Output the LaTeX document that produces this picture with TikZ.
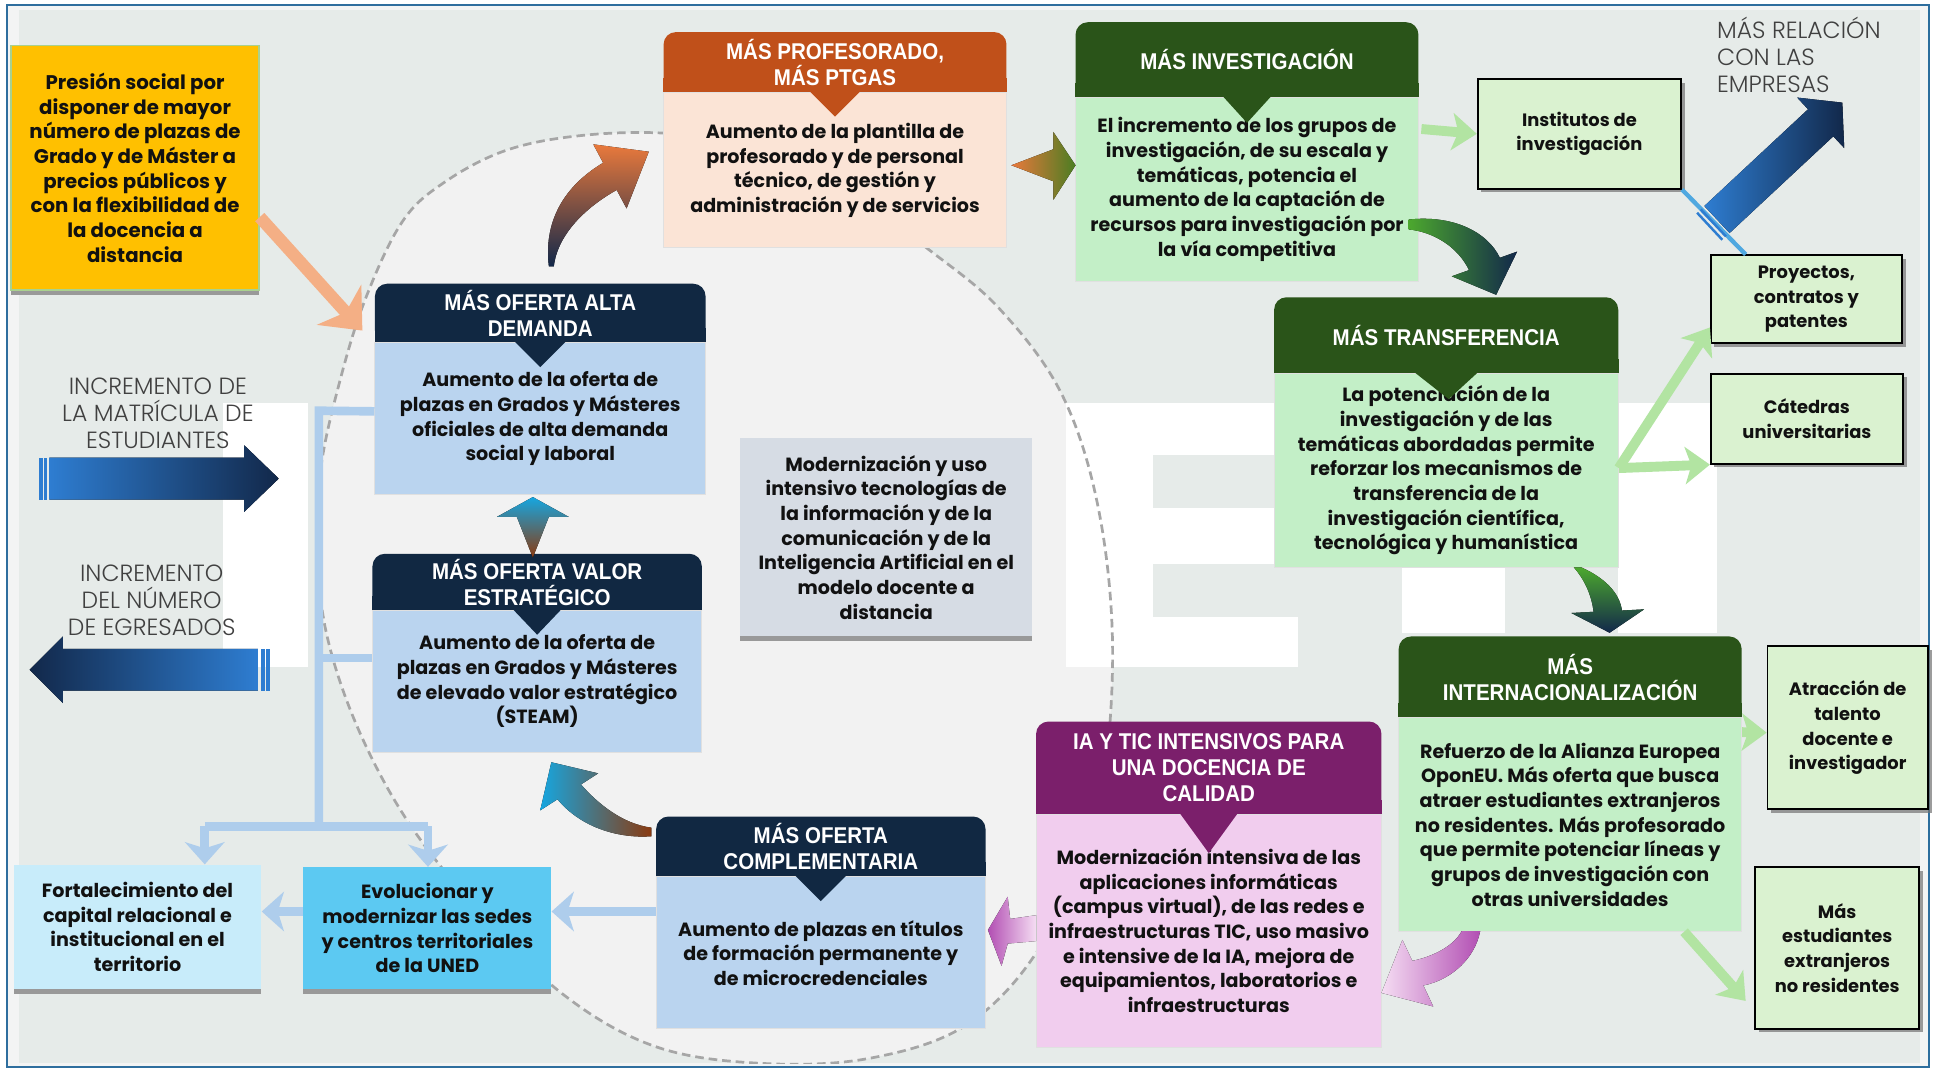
\documentclass[tikz,border=0pt]{standalone}
\usepackage{fontspec}
\setmainfont{Poppins}
\newfontfamily\headfont[FakeStretch=0.9]{Liberation Sans}
\newfontfamily\lightfont{Poppins Light}
\usetikzlibrary{calc, arrows.meta, shadows}

\definecolor{framebd}{HTML}{2E6E9E}
\definecolor{rimbg}{HTML}{F3F4F4}
\definecolor{panelbg}{HTML}{E6EBE9}
\definecolor{ovalbg}{HTML}{F2F2F2}
\definecolor{ovalline}{HTML}{A6A6A6}
\definecolor{navyhead}{HTML}{112842}
\definecolor{bluebody}{HTML}{BAD4EF}
\definecolor{orangehead}{HTML}{C0501A}
\definecolor{peachbody}{HTML}{FBE4D6}
\definecolor{greenhead}{HTML}{2A5419}
\definecolor{greenbody}{HTML}{C3EFC7}
\definecolor{purplehead}{HTML}{7B1F6B}
\definecolor{pinkbody}{HTML}{F1CDEE}
\definecolor{leafgreen}{HTML}{DAF2D0}
\definecolor{yellowbox}{HTML}{FFC000}
\definecolor{graybox}{HTML}{D6DCE4}
\definecolor{paleblue}{HTML}{C8ECFA}
\definecolor{skyblue}{HTML}{5CC9F2}
\definecolor{arrowgreen}{HTML}{B2E4A2}
\definecolor{arrowblue}{HTML}{AECDEC}
\definecolor{salmon}{HTML}{F4AF85}
\definecolor{navyarrow}{HTML}{12284A}
\definecolor{brightblue}{HTML}{2E7DD1}
\definecolor{emerald}{HTML}{4CA82E}
\definecolor{rust}{HTML}{E9793C}
\definecolor{olive}{HTML}{4B7D22}
\definecolor{cyanarrow}{HTML}{16A6E0}
\definecolor{brownarrow}{HTML}{8A3A10}
\definecolor{magentaarrow}{HTML}{B24FB3}
\definecolor{pinkpale}{HTML}{F5DDF3}
\definecolor{thintext}{HTML}{404040}
\definecolor{textblack}{HTML}{111111}
\definecolor{linkblue}{HTML}{4FA8E0}
\definecolor{limeedge}{HTML}{A9D18E}

\begin{document}
\begin{tikzpicture}[x=1pt, y=-1pt,
    cardhead/.style={fill=#1, text=white, font=\headfont\bfseries\fontsize{18.5}{21}\selectfont, align=center, inner sep=0pt, rounded corners=10pt},
    cardbody/.style={fill=#1, draw=black!12, line width=0.8pt, text=textblack, font=\bfseries\fontsize{15.5}{20}\selectfont, align=center, inner sep=0pt},
    leafbox/.style={fill=leafgreen, draw=black, line width=1.4pt, text=textblack, font=\bfseries\fontsize{14.5}{20}\selectfont, align=center, inner sep=0pt, drop shadow={shadow xshift=3pt, shadow yshift=-3pt, fill=black!55, opacity=.7}},
    notebox/.style={fill=#1, text=textblack, font=\bfseries\fontsize{15.5}{20}\selectfont, align=center, inner sep=0pt, drop shadow={shadow xshift=0pt, shadow yshift=-4pt, fill=black!40, opacity=1}},
    thinlabel/.style={text=thintext, font=\lightfont\fontsize{19}{22}\selectfont, align=center, inner sep=0pt},
    greenarrow/.style={draw=arrowgreen, line width=8pt, -{Stealth[length=20pt, width=30pt, inset=5pt]}},
    bluearrow/.style={draw=arrowblue, line width=7pt, -{Stealth[length=18pt, width=32pt, inset=5pt]}},
    bluelink/.style={draw=arrowblue, line width=7pt},
    salmonarrow/.style={draw=salmon, line width=10pt, -{Stealth[length=28pt, width=48pt, inset=8pt]}}]
\useasboundingbox (0,0) rectangle (1568,867);

% background and frame
\fill[white] (0,0) rectangle (1568,867);
\fill[rimbg] (6,4) rectangle (1564,865);
\fill[panelbg] (15,8) rectangle (1557,862);
\draw[framebd, line width=1.5pt] (6,4) rectangle (1564,865);

\begin{scope}
  \clip (15,8) rectangle (1557,862);
  \path[save path=\ovalp] plot[smooth cycle, tension=0.6] coordinates {(257,445) (260,380) (275,311) (296,243) (326,180) (360,148) (410,122) (470,110) (540,108) (615,118) (690,155) (750,200) (810,250) (862,322) (892,420) (902,540) (888,665) (845,765) (785,830) (705,858) (615,862) (530,848) (455,805) (385,735) (330,665) (290,590) (265,515)};
  \fill[ovalbg, use path=\ovalp];
  % faded letters behind
  \fill[white] (181,327) rectangle (250,541);
  \fill[white] (864,327) rectangle (935,541);
  \fill[white] (864,327) rectangle (1033,369);
  \fill[white] (935,412) rectangle (1033,457);
  \fill[white] (864,500) rectangle (1052,541);
  \fill[white] (1137,460) rectangle (1220,513);
  \fill[white] (1312,327) rectangle (1392,513);
  \draw[ovalline, line width=2.2pt, dash pattern=on 7pt off 4pt, use path=\ovalp];
\end{scope}

% left side
\node[thinlabel] (matT) at (128,335) {INCREMENTO DE\\LA MATRÍCULA DE\\ESTUDIANTES};
\node[thinlabel] (egrT) at (123,486.5) {INCREMENTO\\DEL NÚMERO\\DE EGRESADOS};
\fill[left color=brightblue, right color=navyarrow] (40,371) -- (198,371) -- (198,361) -- (226,388) -- (198,415) -- (198,405) -- (40,405) -- cycle;
\fill[brightblue] (32,371) rectangle (34.5,405);
\fill[brightblue] (36,371) rectangle (38.5,405);
\fill[left color=navyarrow, right color=brightblue] (24,543) -- (51,516) -- (51,526) -- (209,526) -- (209,560) -- (51,560) -- (51,570) -- cycle;
\fill[brightblue] (212,526) rectangle (214.5,560);
\fill[brightblue] (216,526) rectangle (218.5,560);

\node[notebox=yellowbox, draw=limeedge, line width=1.2pt, font=\bfseries\fontsize{16}{20}\selectfont, minimum width=201, minimum height=198] (pres) at (109.5,136) {Presión social por\\disponer de mayor\\número de plazas de\\Grado y de Máster a\\precios públicos y\\con la flexibilidad de\\la docencia a\\distancia};

% cards
\node[cardhead=navyhead, minimum width=268, minimum height=48] (altaH) at (438,254) {MÁS OFERTA ALTA\\DEMANDA};
\fill[navyhead] ($(altaH.south west)+(0,-12)$) rectangle ++(12,12);
\fill[navyhead] ($(altaH.south east)+(-12,-12)$) rectangle ++(12,12);
\node[cardbody=bluebody, minimum width=268, minimum height=123] (altaB) at (438,339.5) {Aumento de la oferta de\\plazas en Grados y Másteres\\oficiales de alta demanda\\social y laboral};
\fill[navyhead] ($(altaB.north)+(-21,-1)$) -- ($(altaB.north)+(21,-1)$) -- ($(altaB.north)+(0,20)$) -- cycle;

\node[cardhead=navyhead, minimum width=267, minimum height=46] (valorH) at (435.5,472) {MÁS OFERTA VALOR\\ESTRATÉGICO};
\fill[navyhead] ($(valorH.south west)+(0,-12)$) rectangle ++(12,12);
\fill[navyhead] ($(valorH.south east)+(-12,-12)$) rectangle ++(12,12);
\node[cardbody=bluebody, minimum width=267, minimum height=115] (valorB) at (435.5,552.5) {Aumento de la oferta de\\plazas en Grados y Másteres\\de elevado valor estratégico\\(STEAM)};
\fill[navyhead] ($(valorB.north)+(-20,-1)$) -- ($(valorB.north)+(20,-1)$) -- ($(valorB.north)+(0,20)$) -- cycle;

\node[cardhead=orangehead, minimum width=278, minimum height=49] (profH) at (677,50.5) {MÁS PROFESORADO,\\MÁS PTGAS};
\fill[orangehead] ($(profH.south west)+(0,-12)$) rectangle ++(12,12);
\fill[orangehead] ($(profH.south east)+(-12,-12)$) rectangle ++(12,12);
\node[cardbody=peachbody, minimum width=278, minimum height=126] (profB) at (677,138) {Aumento de la plantilla de\\profesorado y de personal\\técnico, de gestión y\\administración y de servicios};
\fill[orangehead] ($(profB.north)+(-21,-1)$) -- ($(profB.north)+(21,-1)$) -- ($(profB.north)+(0,20)$) -- cycle;

\node[cardhead=greenhead, minimum width=278, minimum height=61] (invH) at (1011,48.5) {MÁS INVESTIGACIÓN};
\fill[greenhead] ($(invH.south west)+(0,-12)$) rectangle ++(12,12);
\fill[greenhead] ($(invH.south east)+(-12,-12)$) rectangle ++(12,12);
\node[cardbody=greenbody, minimum width=278, minimum height=149] (invB) at (1011,153.5) {El incremento de los grupos de\\investigación, de su escala y\\temáticas, potencia el\\aumento de la captación de\\recursos para investigación por\\la vía competitiva};
\fill[greenhead] ($(invB.north)+(-20,-1)$) -- ($(invB.north)+(20,-1)$) -- ($(invB.north)+(0,21)$) -- cycle;

\node[cardhead=greenhead, minimum width=279, minimum height=62] (transH) at (1172.5,272) {MÁS TRANSFERENCIA};
\fill[greenhead] ($(transH.south west)+(0,-12)$) rectangle ++(12,12);
\fill[greenhead] ($(transH.south east)+(-12,-12)$) rectangle ++(12,12);
\node[cardbody=greenbody, minimum width=279, minimum height=157] (transB) at (1172.5,381.5) {La potenciación de la\\investigación y de las\\temáticas abordadas permite\\reforzar los mecanismos de\\transferencia de la\\investigación científica,\\tecnológica y humanística};
\fill[greenhead] ($(transB.north)+(-26,-1)$) -- ($(transB.north)+(26,-1)$) -- ($(transB.north)+(2,21)$) -- cycle;

\node[cardhead=greenhead, minimum width=278, minimum height=66] (intlH) at (1273,549) {MÁS\\INTERNACIONALIZACIÓN};
\fill[greenhead] ($(intlH.south west)+(0,-12)$) rectangle ++(12,12);
\fill[greenhead] ($(intlH.south east)+(-12,-12)$) rectangle ++(12,12);
\node[cardbody=greenbody, minimum width=278, minimum height=173] (intlB) at (1273,668.5) {Refuerzo de la Alianza Europea\\OponEU. Más oferta que busca\\atraer estudiantes extranjeros\\no residentes. Más profesorado\\que permite potenciar líneas y\\grupos de investigación con\\otras universidades};

\node[cardhead=purplehead, minimum width=280, minimum height=75] (iaH) at (980,622.5) {IA Y TIC INTENSIVOS PARA\\UNA DOCENCIA DE\\CALIDAD};
\fill[purplehead] ($(iaH.south west)+(0,-12)$) rectangle ++(12,12);
\fill[purplehead] ($(iaH.south east)+(-12,-12)$) rectangle ++(12,12);
\node[cardbody=pinkbody, minimum width=280, minimum height=189] (iaB) at (980,754.5) {Modernización intensiva de las\\aplicaciones informáticas\\(campus virtual), de las redes e\\infraestructuras TIC, uso masivo\\e intensive de la IA, mejora de\\equipamientos, laboratorios e\\infraestructuras};
\fill[purplehead] ($(iaB.north)+(-24,-1)$) -- ($(iaB.north)+(24,-1)$) -- ($(iaB.north)+(0,32)$) -- cycle;

\node[cardhead=navyhead, minimum width=267, minimum height=49] (compH) at (665.5,686.5) {MÁS OFERTA\\COMPLEMENTARIA};
\fill[navyhead] ($(compH.south west)+(0,-12)$) rectangle ++(12,12);
\fill[navyhead] ($(compH.south east)+(-12,-12)$) rectangle ++(12,12);
\node[cardbody=bluebody, minimum width=267, minimum height=123] (compB) at (665.5,772.5) {Aumento de plazas en títulos\\de formación permanente y\\de microcredenciales};
\fill[navyhead] ($(compB.north)+(-21,-1)$) -- ($(compB.north)+(21,-1)$) -- ($(compB.north)+(0,20)$) -- cycle;

\node[notebox=graybox, minimum width=237, minimum height=161] (moder) at (718.5,435.5) {Modernización y uso\\intensivo tecnologías de\\la información y de la\\comunicación y de la\\Inteligencia Artificial en el\\modelo docente a\\distancia};

\node[notebox=paleblue, minimum width=201, minimum height=101] (fort) at (111.5,751.5) {Fortalecimiento del\\capital relacional e\\institucional en el\\territorio};
\node[notebox=skyblue, minimum width=201, minimum height=99] (evol) at (346.5,752.5) {Evolucionar y\\modernizar las sedes\\y centros territoriales\\de la UNED};

% small boxes on the right
\node[leafbox, minimum width=165, minimum height=89] (inst) at (1280.5,108.5) {Institutos de\\investigación};
\node[leafbox, minimum width=155, minimum height=71] (proy) at (1464.5,242.5) {Proyectos,\\contratos y\\patentes};
\node[leafbox, minimum width=156, minimum height=73] (cat) at (1465,339.5) {Cátedras\\universitarias};
\node[leafbox, minimum width=130, minimum height=132] (atr) at (1498,590) {Atracción de\\talento\\docente e\\investigador};
\node[leafbox, minimum width=133, minimum height=131] (est) at (1489.5,768.5) {Más\\estudiantes\\extranjeros\\no residentes};

\node[thinlabel, align=left, anchor=west] (relT) at (1392,44.5) {MÁS RELACIÓN\\CON LAS\\EMPRESAS};

% connectors
\draw[salmonarrow] ($(pres.east)+(0,40)$) -- ($(altaH.west)+(-10,14)$);

\coordinate (spineT) at (258.5,333);
\coordinate (spineB) at (258.5,670);
\coordinate (forkL) at (166,670);
\coordinate (forkR) at (347,670);
\draw[bluelink] ($(altaB.west)+(0,-6)$) -- (spineT) -- (spineB);
\draw[bluelink] ($(valorB.west)+(0,-19)$) -- ++(-43.5,0);
\draw[bluelink] (forkL) -- (forkR);
\draw[bluearrow] (forkL) -- (forkL |- fort.north);
\draw[bluearrow] (forkR) -- (forkR |- evol.north);
\draw[bluearrow] ($(compB.west)+(0,-33.5)$) -- ($(evol.east)+(0,-13.5)$);
\draw[bluearrow] ($(evol.west)+(0,-13.5)$) -- ($(fort.east)+(0,-12.5)$);

\draw[greenarrow] ($(invB.north east)+(2,26)$) -- (inst.west);
\draw[greenarrow] ($(transB.east)+(0,-2)$) -- ($(proy.west)+(0,23)$);
\draw[greenarrow] ($(transB.east)+(0,-2)$) -- (cat.south west);
\draw[greenarrow] ($(intlB.north east)+(0,12)$) -- ($(atr.west)+(0,4)$);
\draw[greenarrow] ($(intlB.south east)+(-47,0)$) -- ($(est.west)+(-7,43)$);

\draw[linkblue, line width=3.5pt] (inst.south east) -- ($(proy.north west)+(29,0)$);
\begin{scope}[shift={(1392,178)}, rotate=43]
  \fill[left color=brightblue, right color=navyarrow] (0,-15) -- (115,-15) -- (115,-28) -- (139,0) -- (115,28) -- (115,15) -- (0,15) -- cycle;
  \fill[brightblue] (-9,-15) rectangle (-7,15);
  \fill[brightblue] (-5,-15) rectangle (-3,15);
\end{scope}

% gradient arrows between cards
\fill[bottom color=navyarrow, top color=rust] (445,216) .. controls (440,175) and (462,148) .. (489,132) -- (481,117) -- (526,123) -- (508,169) -- (500,154) .. controls (475,168) and (452,190) .. (449,216) -- cycle;
\fill[left color=rust, right color=olive] (820,134) -- (854,121) -- (854,107) -- (872,134) -- (854,162) -- (854,147) -- cycle;
\fill[left color=emerald, right color=navyarrow] (1142,178) .. controls (1178,174) and (1206,188) .. (1216,209) -- (1230,204) -- (1213,239) -- (1177,224) -- (1191,219) .. controls (1182,200) and (1162,188) .. (1142,186) -- cycle;
\fill[top color=emerald, bottom color=navyarrow] (1282,460) .. controls (1300,468) and (1313,480) .. (1315,495) -- (1333,494) -- (1305,513) -- (1274,497) -- (1292,496) .. controls (1290,480) and (1283,468) .. (1276,460) -- cycle;
\fill[left color=pinkpale, right color=magentaarrow] (1185,755) .. controls (1178,768) and (1160,776) .. (1145,779) -- (1137,762) -- (1120,805) -- (1162,816) -- (1154,799) .. controls (1178,794) and (1196,776) .. (1200,755) -- cycle;
\fill[left color=magentaarrow, right color=pinkpale] (801,754) -- (817,727) -- (819,745) -- (840,742) -- (840,763) -- (817,765) -- (812,783) -- cycle;
\fill[left color=cyanarrow, right color=brownarrow] (528,671) .. controls (505,668) and (485,652) .. (471,636) -- (485,627) -- (447,618) -- (438,657) -- (452,648) .. controls (470,670) and (500,680) .. (528,678) -- cycle;
\fill[top color=cyanarrow, bottom color=brownarrow] (432,403) -- (461,419) -- (445,419) -- (432,452) -- (419,419) -- (403,419) -- cycle;
\end{tikzpicture}
\end{document}
